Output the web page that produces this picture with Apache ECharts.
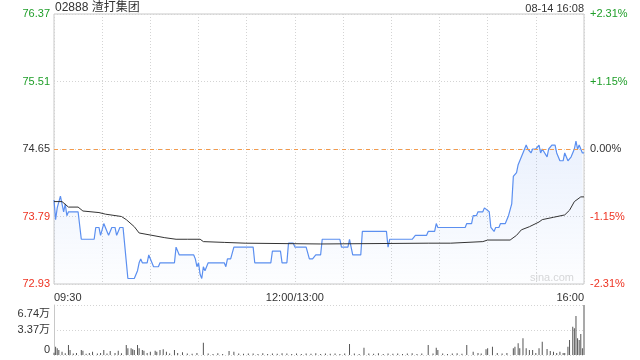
<!DOCTYPE html>
<html>
<head>
<meta charset="utf-8">
<script src="https://cdn.jsdelivr.net/npm/echarts@6/dist/echarts.min.js"></script>
<style>
    html, body { margin: 0; padding: 0; background: #fff; }
    #main { width: 640px; height: 360px; }
</style>
</head>
<body>
<div id="main"></div>
<script>
// 分时数据 (分钟从 09:30 起算, 午休折叠)
var preClose = 74.65;
var priceTicks = [72.93, 73.79, 74.65, 75.51, 76.37];
var pctLabels = ['-2.31%', '-1.15%', '0.00%', '+1.15%', '+2.31%'];
var timeLabels = ['09:30', '12:00/13:00', '16:00'];
var timeLabelMinutes = [0, 150, 330];
var volLabels = ['0', '3.37万', '6.74万'];

var priceMinutes = [0,1,2,4,6,7,8,9,15,17,25,26,28,29,31,32,33,34,36,38,39,40,41,43,46,50,52,53,54,55,58,59,61,62,65,66,75,76,77,78,87,88,89,90,91,92,93,94,95,96,106,107,108,110,112,124,125,135,136,141,142,145,146,149,150,157,159,161,163,166,167,178,179,183,184,185,186,191,192,207,208,209,223,225,232,233,237,238,239,256,257,260,261,263,264,267,268,269,271,272,274,275,277,278,281,283,284,285,286,288,289,290,292,294,295,297,298,300,302,303,304,305,307,308,310,312,313,315,317,318,320,321,322,324,325,326,327,329,330];
var prices = [74.00,73.75,73.90,74.05,73.85,73.95,73.80,73.85,73.85,73.50,73.50,73.65,73.65,73.55,73.70,73.65,73.60,73.55,73.65,73.65,73.55,73.60,73.65,73.65,73.00,73.00,73.10,73.20,73.25,73.20,73.20,73.30,73.20,73.15,73.15,73.20,73.20,73.40,73.40,73.30,73.30,73.25,73.15,73.20,73.05,73.00,73.15,73.10,73.15,73.20,73.20,73.15,73.25,73.25,73.40,73.40,73.20,73.20,73.35,73.35,73.20,73.20,73.45,73.45,73.40,73.40,73.25,73.25,73.30,73.30,73.50,73.50,73.40,73.40,73.50,73.50,73.30,73.30,73.60,73.60,73.40,73.50,73.50,73.55,73.55,73.60,73.60,73.70,73.65,73.65,73.70,73.70,73.80,73.80,73.85,73.85,73.90,73.90,73.85,73.65,73.60,73.65,73.65,73.70,73.70,73.80,73.80,73.95,74.30,74.35,74.45,74.45,74.60,74.70,74.65,74.60,74.65,74.65,74.70,74.60,74.65,74.65,74.55,74.65,74.70,74.70,74.60,74.50,74.50,74.60,74.50,74.50,74.55,74.65,74.75,74.65,74.70,74.60,74.60];

var avgMinutes = [0,5,9,15,18,28,32,42,45,50,53,61,69,76,83,91,93,106,119,166,233,247,267,270,284,288,291,296,302,304,311,318,321,324,328,330];
var avgPrices = [73.98,73.98,73.91,73.91,73.86,73.84,73.82,73.79,73.75,73.66,73.58,73.55,73.52,73.50,73.50,73.50,73.47,73.46,73.45,73.44,73.45,73.45,73.47,73.49,73.49,73.55,73.62,73.66,73.72,73.75,73.78,73.81,73.87,73.98,74.04,74.04];

var volMinutes = [0,1,2,3,5,7,9,10,12,14,17,18,20,22,24,27,29,31,33,35,38,40,42,45,46,48,49,50,52,53,55,56,58,60,63,64,66,68,70,72,75,77,80,83,86,89,93,96,99,102,105,109,112,115,118,121,124,127,130,133,136,139,142,145,148,151,154,157,160,163,166,169,172,175,178,181,184,187,190,193,196,199,202,205,208,211,214,217,220,223,226,229,233,236,238,239,242,245,248,251,254,257,261,264,266,269,270,273,276,279,282,286,287,289,290,292,294,296,298,300,302,304,307,309,311,313,315,317,318,320,321,323,324,325,326,327,328,329,330];
var volumes = [3000,11200,9000,6700,4500,2500,13500,6700,2000,2700,6700,5800,1800,2700,4500,2100,2700,6700,1900,5400,2700,5800,2200,13500,9000,9000,7600,6700,13500,9000,6700,5800,2700,4500,5800,4500,6700,7600,4500,2000,6700,2700,3600,2000,1700,2700,16600,2000,1500,2200,1400,5400,4500,2000,1600,2100,1900,1500,2200,1400,2000,1600,2300,1900,1500,2100,1400,2000,1600,2200,1500,1900,1600,2100,1500,2000,14800,2100,1500,9900,2000,1600,2200,1500,1900,1600,2100,1500,2000,2200,1500,2000,13500,2000,9900,6700,2100,1500,2000,2200,1600,13500,4500,2700,2000,7600,9000,11200,2700,2000,2700,9000,11200,15700,9000,22500,9000,6700,6700,2700,9000,18000,8100,5400,4500,2700,4500,2700,2700,11200,20200,38200,36000,52600,22500,20200,28300,9000,67400];

var upColor = '#1e9e28';
var downColor = '#ee3322';
var fontFamily = 'Liberation Sans, Arial, Noto Sans CJK SC, sans-serif';

function pairs(xs, ys) {
    var arr = [];
    for (var i = 0; i < xs.length; i++) {
        arr.push([xs[i], ys[i]]);
    }
    return arr;
}

function tickColor(index) {
    if (index > 2) return upColor;
    if (index < 2) return downColor;
    return '#333';
}

var chart = echarts.init(document.getElementById('main'));

var dotted = { show: true, lineStyle: { color: '#d4d4d4', type: [1, 2], width: 1 } };

var option = {
    animation: false,
    textStyle: { fontFamily: fontFamily },
    graphic: [
        { type: 'text', left: 55, top: 2, style: { text: '02888 渣打集团', fontSize: 12, fill: '#333', fontFamily: fontFamily } },
        { type: 'text', right: 56, top: 3, style: { text: '08-14 16:08', fontSize: 11, fill: '#333', fontFamily: fontFamily } },
        { type: 'text', right: 66, top: 272, style: { text: 'sina.com', fontSize: 11, fill: '#d8d8d8', fontFamily: fontFamily } }
    ],
    grid: [
        { left: 54, top: 14, width: 530, height: 270, show: true, borderColor: '#c8c8c8', borderWidth: 1 },
        { left: 54, top: 305, width: 530, height: 50 }
    ],
    xAxis: [
        {
            type: 'value', gridIndex: 0, min: 0, max: 330, interval: 30,
            axisLine: { show: false }, axisTick: { show: false },
            splitLine: dotted,
            axisLabel: {
                color: '#333', fontSize: 11, margin: 8,
                showMinLabel: true, showMaxLabel: true,
                alignMinLabel: 'left', alignMaxLabel: 'right',
                formatter: function (v) {
                    var i = timeLabelMinutes.indexOf(v);
                    return i >= 0 ? timeLabels[i] : '';
                }
            }
        },
        {
            type: 'value', gridIndex: 1, min: 0, max: 330, interval: 30,
            axisLine: { show: false }, axisTick: { show: false },
            splitLine: { show: false }, axisLabel: { show: false }
        }
    ],
    yAxis: [
        {
            type: 'value', gridIndex: 0, position: 'left',
            min: priceTicks[0], max: priceTicks[4], interval: 0.86,
            axisLine: { show: false }, axisTick: { show: false },
            splitLine: dotted,
            axisLabel: {
                fontSize: 11, margin: 4,
                formatter: function (v, i) { return priceTicks[i].toFixed(2); },
                color: function (v, i) { return tickColor(i); }
            }
        },
        {
            type: 'value', gridIndex: 0, position: 'right',
            min: priceTicks[0], max: priceTicks[4], interval: 0.86,
            axisLine: { show: false }, axisTick: { show: false },
            splitLine: { show: false },
            axisLabel: {
                fontSize: 11, margin: 6,
                formatter: function (v, i) { return pctLabels[i]; },
                color: function (v, i) { return tickColor(i); }
            }
        },
        {
            type: 'value', gridIndex: 1, min: 0, max: 67400, interval: 33700,
            axisLine: { show: true, lineStyle: { color: '#c8c8c8' } },
            axisTick: { show: false },
            splitLine: dotted,
            axisLabel: {
                fontSize: 11, margin: 4, color: '#333',
                formatter: function (v, i) {
                    if (i === 2) return '{top|' + volLabels[i] + '}';
                    if (i === 0) return '{bottom|' + volLabels[i] + '}';
                    return volLabels[i];
                },
                rich: {
                    top: { fontSize: 11, color: '#333', padding: [18, 0, 0, 0] },
                    bottom: { fontSize: 11, color: '#333', padding: [0, 0, 10, 0] }
                }
            }
        }
    ],
    series: [
        {
            name: '价格',
            type: 'line',
            xAxisIndex: 0, yAxisIndex: 0,
            data: pairs(priceMinutes, prices),
            symbol: 'none',
            lineStyle: { color: '#5b8ff0', width: 1.2 },
            areaStyle: {
                origin: 'start',
                color: new echarts.graphic.LinearGradient(0, 0, 0, 1, [
                    { offset: 0, color: 'rgba(91,143,240,0.18)' },
                    { offset: 1, color: 'rgba(91,143,240,0.02)' }
                ])
            },
            markLine: {
                silent: true,
                symbol: 'none',
                label: { show: false },
                lineStyle: { color: '#f39a4c', type: [4, 4], width: 1, opacity: 1 },
                data: [{ yAxis: preClose }]
            },
            z: 3
        },
        {
            name: '均价',
            type: 'line',
            xAxisIndex: 0, yAxisIndex: 0,
            data: pairs(avgMinutes, avgPrices),
            symbol: 'none',
            lineStyle: { color: '#333', width: 1 },
            z: 4
        },
        {
            name: '成交量',
            type: 'bar',
            xAxisIndex: 1, yAxisIndex: 2,
            data: pairs(volMinutes, volumes),
            barWidth: 1,
            itemStyle: { color: '#555' }
        }
    ]
};

chart.setOption(option);
</script>
</body>
</html>
